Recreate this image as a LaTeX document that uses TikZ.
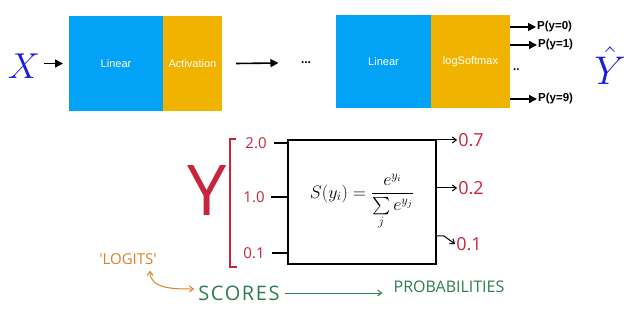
\RequirePackage{fix-cm}
\documentclass[tikz,border=0pt]{standalone}
\usepackage{amsmath}
\usepackage{fontspec}
\setsansfont{Liberation Sans}
\newfontfamily\handfont{Open Sans}
\usetikzlibrary{arrows.meta,positioning}
\definecolor{NNBlue}{HTML}{02A3F7}
\definecolor{NNAmber}{HTML}{F0B400}
\definecolor{NNMath}{HTML}{1A1AE0}
\definecolor{InkRed}{HTML}{C8243C}
\definecolor{InkOrange}{HTML}{D9822B}
\definecolor{InkGreen}{HTML}{2E7D4E}
\tikzset{
  nnBlock/.style={
    rectangle, draw=none, fill=#1, text=white, align=center,
    inner sep=0pt, outer sep=0pt, anchor=north west,
    font=\sffamily\fontsize{11}{13}\selectfont
  },
  nnBlock/.default=NNBlue,
  nnArrow/.style={-{Triangle[length=8pt,width=8pt]}, line width=1.6pt, draw=black},
  nnMath/.style={text=NNMath, inner sep=1pt, font=\fontsize{36}{40}\selectfont},
  nnOut/.style={anchor=west, inner sep=1pt, font=\sffamily\bfseries\fontsize{11.5}{13}\selectfont},
  inkText/.style={text=#1, inner sep=1pt, font=\handfont\fontsize{15}{18}\selectfont},
  inkText/.default=InkRed,
  inkLine/.style={line width=1.2pt, draw=black},
  inkArrow/.style={-{Straight Barb[length=4pt,width=6pt]}, line width=1pt, draw=#1},
  inkArrow/.default=black,
  smBox/.style={
    rectangle, draw=black, line width=1.6pt, fill=white, anchor=north west,
    inner sep=0pt, outer sep=0pt, align=center, font=\fontsize{18}{21}\selectfont
  }
}

\begin{document}
\begin{tikzpicture}[x=1pt,y=-1pt]
  \useasboundingbox (0,0) rectangle (640,315);

  \node[nnMath] (xin) at (24,66) {$X$};
  \node[nnBlock, minimum width=94pt, minimum height=95pt] (lin1) at (69,16) {Linear};
  \node[nnBlock=NNAmber, minimum width=59pt, minimum height=95pt] (act1) at (lin1.north east) {Activation};
  \node[font=\sffamily\bfseries\fontsize{12}{13}\selectfont] (dots) at (306,63) {...};
  \node[nnBlock, minimum width=95pt, minimum height=93pt] (lin2) at (336,15) {Linear};
  \node[nnBlock=NNAmber, minimum width=79pt, minimum height=93pt] (soft2) at (lin2.north east) {logSoftmax};

  \node[nnOut] (p0) at (536,27) {P(y=0)};
  \node[nnOut] (p1) at (537,45) {P(y=1)};
  \node[nnOut] (pdots) at (512,70) {..};
  \node[nnOut] (p9) at (537,99) {P(y=9)};
  \node[nnMath, font=\fontsize{40}{44}\selectfont] (yhat) at (610,66) {$\hat{Y}$};

  \draw[nnArrow] (xin.east |- lin1.west) ++(3,0) -- ([xshift=-6pt]lin1.west);
  \draw[nnArrow] ([xshift=14pt]act1.east) -- ([xshift=-19pt]dots.west);
  \draw[nnArrow] (soft2.east |- p0) -- (p0.west);
  \draw[nnArrow] (soft2.east |- p1) -- (p1.west);
  \draw[nnArrow] (soft2.east |- p9) -- (p9.west);

  \node[inkText, font=\handfont\fontsize{70}{72}\selectfont] (bigY) at (207,191) {Y};
  \draw[InkRed, line width=1.4pt] (236,139) -- (230,139) -- (230,267) -- (237,267);
  \node[inkText] (s20) at (256,143) {2.0};
  \node[inkText] (s10) at (254,197) {1.0};
  \node[inkText] (s01) at (254,253) {0.1};

  \node[smBox, minimum width=148pt, minimum height=124pt] (smax) at (288,140)
    {$S(y_i) = \dfrac{e^{y_i}}{\sum\limits_j e^{y_j}}$};

  \draw[inkLine] ([xshift=6pt]s20.east) -- (s20 -| smax.west);
  \draw[inkLine] ([xshift=5pt]s10.east) -- (s10 -| smax.west);
  \draw[inkLine] ([xshift=6pt]s01.east) -- (s01 -| smax.west);

  \node[inkText, font=\handfont\fontsize{18}{20}\selectfont] (p07) at (471,140) {0.7};
  \node[inkText, font=\handfont\fontsize{18}{20}\selectfont] (p02) at (471,188) {0.2};
  \node[inkText, font=\handfont\fontsize{18}{20}\selectfont] (p001) at (469,244) {0.1};
  \draw[inkArrow] (smax.east |- p07) -- (p07.west);
  \draw[inkArrow] (smax.east |- p02) -- (p02.west);
  \draw[inkArrow] ([yshift=8pt]smax.east |- p001) -- ++(8,0) -- (p001.west);

  \node[inkText=InkOrange] (logits) at (128,259) {'LOGITS'};
  \node[inkText=InkGreen, font=\handfont\fontsize{20}{22}\selectfont\addfontfeatures{LetterSpace=8}] (scores) at (239,293) {SCORES};
  \node[inkText=InkGreen, font=\handfont\fontsize{16}{18}\selectfont] (probs) at (449,287) {PROBABILITIES};

  \draw[inkArrow=InkOrange, {Straight Barb[length=4pt,width=6pt]}-{Straight Barb[length=4pt,width=6pt]}]
    ([xshift=22pt,yshift=-5pt]logits.south) to[out=-90, in=180] ([xshift=-3pt,yshift=4pt]scores.west);
  \draw[inkArrow=InkGreen] ([xshift=4pt]scores.east) -- ([xshift=-10pt]scores.east -| probs.west);
\end{tikzpicture}
\end{document}
